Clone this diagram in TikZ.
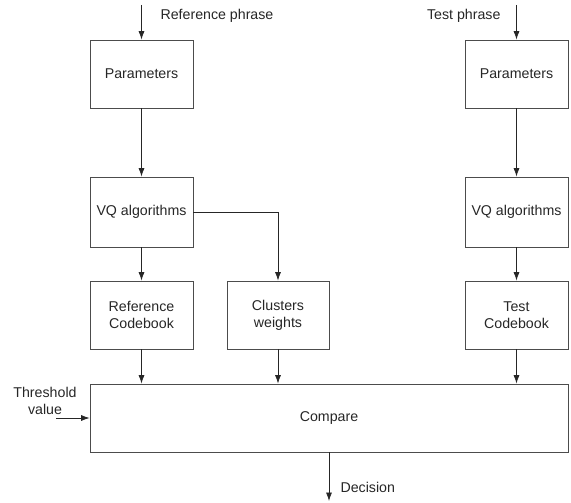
\documentclass[tikz,border=0pt]{standalone}
\usepackage{fontspec}
\setmainfont{Liberation Sans}
\usetikzlibrary{arrows.meta}
\begin{document}
\begin{tikzpicture}[x=1pt,y=-1pt,
  every node/.style={font=\fontsize{14.2}{17}\selectfont,text=black!85},
  blk/.style={draw=black!70,line width=0.8pt,align=center,minimum width=103pt,minimum height=68pt,inner sep=0pt},
  conn/.style={draw=black!85,line width=0.7pt,-{Latex[length=8.5pt,width=6pt]}}]
  \useasboundingbox (0,0) rectangle (571,503);
  % left column
  \node[blk] (refpar) at (141.5,74) {Parameters};
  \node[blk,minimum height=70pt] (refvq) at (141.5,212) {VQ algorithms};
  \node[blk] (refcb) at (141.5,315) {Reference\\Codebook};
  \node[blk,minimum width=102pt] (clw) at (278,315) {Clusters\\weights};
  % right column
  \node[blk] (testpar) at (516.5,74) {Parameters};
  \node[blk,minimum height=70pt] (testvq) at (516.5,212) {VQ algorithms};
  \node[blk] (testcb) at (516.5,315) {Test\\Codebook};
  % compare
  \node[blk,minimum width=478pt] (cmp) at (329,418) {Compare};
  \coordinate (refin) at (141.5,5);
  \coordinate (testin) at (516.5,5);
  \coordinate (thrin) at (56,418);
  \coordinate (decout) at (329,501);
  \node[anchor=west] (reflab) at (157,16) {Reference phrase};
  \node[anchor=east] (testlab) at (504,16) {Test phrase};
  \node[align=center] (thrlab) at (45,401) {Threshold\\value};
  \node[anchor=west] (declab) at (337,487) {Decision};
  \draw[conn] (refin) -- (refpar);
  \draw[conn] (refpar) -- (refvq);
  \draw[conn] (refvq) -- (refcb);
  \draw[conn] (refvq.east) -| (clw.north);
  \draw[conn] (testin) -- (testpar);
  \draw[conn] (testpar) -- (testvq);
  \draw[conn] (testvq) -- (testcb);
  \draw[conn] (refcb) -- (refcb |- cmp.north);
  \draw[conn] (clw) -- (clw |- cmp.north);
  \draw[conn] (testcb) -- (testcb |- cmp.north);
  \draw[conn] (thrin) -- (cmp.west);
  \draw[conn] (cmp.south) -- (decout);
\end{tikzpicture}
\end{document}
